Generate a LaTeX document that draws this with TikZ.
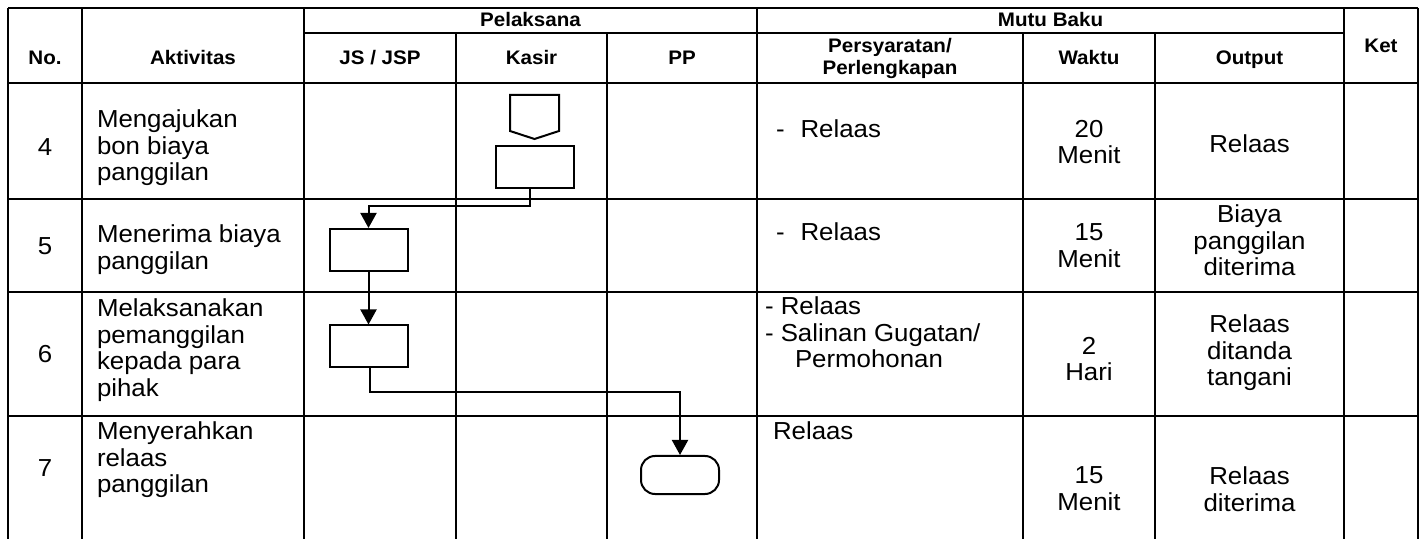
\documentclass[tikz,border=0pt]{standalone}
\usepackage{fontspec}
\setmainfont{Liberation Sans}[FakeStretch=1.05]
\usetikzlibrary{arrows.meta}

\begin{document}
\begin{tikzpicture}[x=0.5pt, y=-0.5pt, line width=1pt,
  txt/.style={inner sep=0pt, font=\fontsize{12.3}{13.2}\selectfont},
  head/.style={inner sep=0pt, font=\bfseries\fontsize{9.8}{11}\selectfont},
  proc/.style={draw, minimum width=39pt, minimum height=21pt, inner sep=0pt},
  term/.style={draw, rounded corners=7pt, minimum width=39pt, minimum height=19pt, inner sep=0pt},
  flow/.style={-{Triangle[width=8pt,length=7.5pt]}}
]
\useasboundingbox (0,0) rectangle (1424,539);

% table lines
\draw (8,8) -- (1418,8) (8,83) -- (1418,83) (8,199) -- (1418,199)
      (8,292) -- (1418,292) (8,416) -- (1418,416);
\draw (304,33) -- (1344,33);
\foreach \x in {8,82,304,757,1344,1418} \draw (\x,8) -- (\x,539);
\foreach \x in {456,607,1023,1155} \draw (\x,33) -- (\x,539);

% header
\node[head, anchor=base] (hno) at (45,65) {No.};
\node[head, anchor=base] (hakt) at (193,65) {Aktivitas};
\node[head, anchor=base] (hpel) at (530.5,27) {Pelaksana};
\node[head, anchor=base] (hjs) at (380,65) {JS / JSP};
\node[head, anchor=base] (hks) at (531.5,65) {Kasir};
\node[head, anchor=base] (hpp) at (682,65) {PP};
\node[head, anchor=base] (hmutu) at (1050.5,27) {Mutu Baku};
\node[head, align=center, anchor=north] (hsyarat) at (890,37) {Persyaratan/\\Perlengkapan};
\node[head, anchor=base] (hwkt) at (1089,65) {Waktu};
\node[head, anchor=base] (hout) at (1249.5,65) {Output};
\node[head, anchor=base] (hket) at (1381,53) {Ket};

% row 4
\node[txt] (n4) at (45,147) {4};
\node[txt, align=left, anchor=north west] (a4) at (96,109) {Mengajukan\\bon biaya\\panggilan};
\node[txt, anchor=north west] (s4) at (775,119) {-\hspace{8pt}Relaas};
\node[txt, align=center, anchor=north] (w4) at (1089,119) {20\\Menit};
\node[txt, anchor=north] (o4) at (1249.5,134) {Relaas};

% row 5
\node[txt] (n5) at (45,246) {5};
\node[txt, align=left, anchor=north west] (a5) at (96,224) {Menerima biaya\\panggilan};
\node[txt, anchor=north west] (s5) at (775,222) {-\hspace{8pt}Relaas};
\node[txt, align=center, anchor=north] (w5) at (1089,223) {15\\Menit};
\node[txt, align=center, anchor=north] (o5) at (1249.5,204) {Biaya\\panggilan\\diterima};

% row 6
\node[txt] (n6) at (45,354) {6};
\node[txt, align=left, anchor=north west] (a6) at (96,298) {Melaksanakan\\pemanggilan\\kepada para\\pihak};
\node[txt, align=left, anchor=north west] (s6) at (764,296) {- Relaas\\- Salinan Gugatan/\\\hspace*{15pt}Permohonan};
\node[txt, align=center, anchor=north] (w6) at (1089,336) {2\\Hari};
\node[txt, align=center, anchor=north] (o6) at (1249.5,314) {Relaas\\ditanda\\tangani};

% row 7
\node[txt] (n7) at (45,468) {7};
\node[txt, align=left, anchor=north west] (a7) at (96,421) {Menyerahkan\\relaas\\panggilan};
\node[txt, anchor=north west] (s7) at (772,421) {Relaas};
\node[txt, align=center, anchor=north] (w7) at (1089,466) {15\\Menit};
\node[txt, align=center, anchor=north] (o7) at (1249.5,466) {Relaas\\diterima};

% flow
\draw (510,95) -- (559,95) -- (559,131) -- (534.5,139) -- (510,131) -- cycle;
\node[proc] (kasir) at (535,167) {};
\node[proc] (js5) at (368.5,250) {};
\node[proc] (js6) at (368.5,346.5) {};
\node[term] (pp7) at (680,475) {};

\draw[flow] ([xshift=-2.5pt]kasir.south) -- ++(0,17) -| (js5.north);
\draw[flow] (js5) -- (js6);
\draw[flow] ([xshift=0.5pt]js6.south) -- ++(0,24) -| (pp7.north);
\end{tikzpicture}
\end{document}
